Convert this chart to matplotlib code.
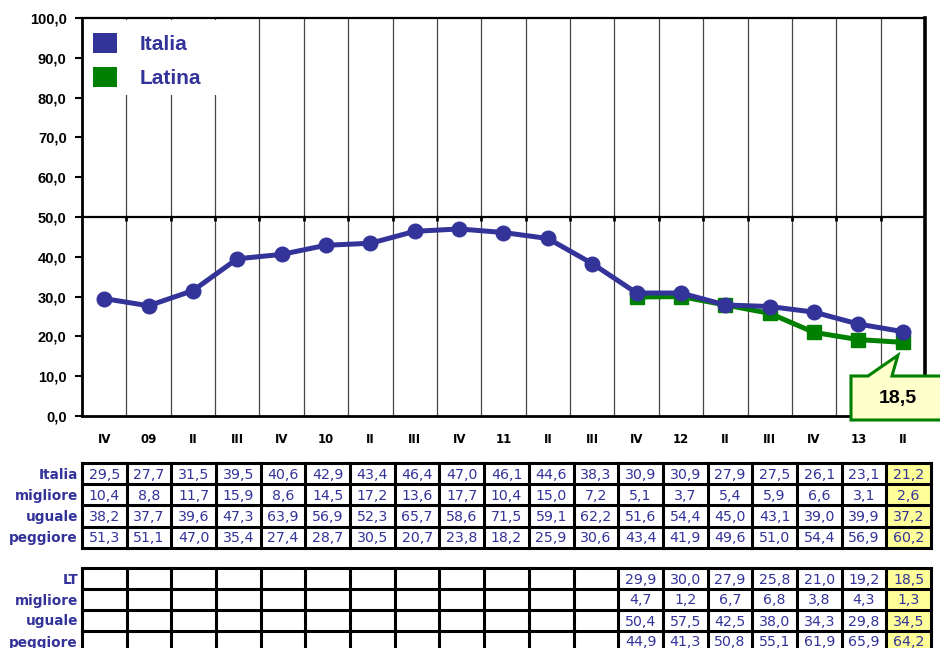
import matplotlib
matplotlib.use("Agg")
import matplotlib.pyplot as plt
from matplotlib.patches import Rectangle, Polygon

# ---- data -------------------------------------------------------------
quarters = ["IV", "09", "II", "III", "IV", "10", "II", "III", "IV", "11",
            "II", "III", "IV", "12", "II", "III", "IV", "13", "II"]

italia = [29.5, 27.7, 31.5, 39.5, 40.6, 42.9, 43.4, 46.4, 47.0, 46.1,
          44.6, 38.3, 30.9, 30.9, 27.9, 27.5, 26.1, 23.1, 21.2]
italia_migliore = [10.4, 8.8, 11.7, 15.9, 8.6, 14.5, 17.2, 13.6, 17.7, 10.4,
                   15.0, 7.2, 5.1, 3.7, 5.4, 5.9, 6.6, 3.1, 2.6]
italia_uguale = [38.2, 37.7, 39.6, 47.3, 63.9, 56.9, 52.3, 65.7, 58.6, 71.5,
                 59.1, 62.2, 51.6, 54.4, 45.0, 43.1, 39.0, 39.9, 37.2]
italia_peggiore = [51.3, 51.1, 47.0, 35.4, 27.4, 28.7, 30.5, 20.7, 23.8, 18.2,
                   25.9, 30.6, 43.4, 41.9, 49.6, 51.0, 54.4, 56.9, 60.2]

# Latina is available only for the last seven quarters
latina_start = 12
latina = [29.9, 30.0, 27.9, 25.8, 21.0, 19.2, 18.5]
latina_migliore = [4.7, 1.2, 6.7, 6.8, 3.8, 4.3, 1.3]
latina_uguale = [50.4, 57.5, 42.5, 38.0, 34.3, 29.8, 34.5]
latina_peggiore = [44.9, 41.3, 50.8, 55.1, 61.9, 65.9, 64.2]

yticks = [0, 10, 20, 30, 40, 50, 60, 70, 80, 90, 100]

# ---- style --------------------------------------------------------------
BLUE = "#333399"
GREEN = "#008000"
YELLOW = "#FFFF99"
W, H = 940, 648


def fmt(v):
    return f"{v:.1f}".replace(".", ",")


fig = plt.figure(figsize=(W / 100, H / 100), dpi=100)
fig.patch.set_facecolor("white")

# ---- main chart -----------------------------------------------------------
ax = fig.add_axes([82 / W, 1 - 416 / H, (925 - 82) / W, (416 - 18) / H])
n = len(quarters)
xs = list(range(n))
ax.set_xlim(-0.5, n - 0.5)
ax.set_ylim(0, 100)

# vertical separators between quarters
for k in range(n - 1):
    ax.axvline(k + 0.5, color="#444444", lw=0.9, zorder=1)
# horizontal reference at 50 with tiny ticks
ax.axhline(50, color="black", lw=1.6, zorder=2)
ax.vlines([k + 0.5 for k in range(n - 1)], 49.0, 50, color="black", lw=2, zorder=2)

lat_x = xs[latina_start:]
ax.plot(lat_x, latina, color=GREEN, lw=3.6, marker="s", ms=9.5,
        mfc=GREEN, mec=GREEN, zorder=4, solid_joinstyle="round")
ax.plot(xs, italia, color=BLUE, lw=3.6, marker="o", ms=10.5,
        mfc=BLUE, mec=BLUE, zorder=5, solid_joinstyle="round")

ax.set_yticks(yticks)
ax.set_yticklabels([fmt(v) for v in yticks], family="Liberation Sans",
                   fontweight="bold", fontsize=10.5)
ax.set_xticks(xs)
ax.set_xticklabels(quarters, family="DejaVu Sans", fontweight="bold", fontsize=8.5)
ax.tick_params(axis="y", length=5, width=1.5, pad=6, direction="out")
ax.tick_params(axis="x", length=0, pad=12)

for side, lw in (("left", 2), ("bottom", 2), ("top", 1.6), ("right", 2.6)):
    ax.spines[side].set_linewidth(lw)
    ax.spines[side].set_color("black")

# ---- overlay in pixel coordinates (legend, callout, tables) ---------------
ov = fig.add_axes([0, 0, 1, 1], zorder=10)
ov.set_xlim(0, W)
ov.set_ylim(H, 0)
ov.axis("off")
ov.patch.set_alpha(0)

# legend
ov.add_patch(Rectangle((84, 20), 142, 75, fc="white", ec="none"))
for i, (name, col) in enumerate((("Italia", BLUE), ("Latina", GREEN))):
    yc = 43 + i * 34
    ov.add_patch(Rectangle((93, yc - 10), 24, 20, fc=col, ec="none"))
    ov.text(140, yc + 1, name, color=BLUE, family="Liberation Sans",
            fontweight="bold", fontsize=15, va="center", ha="left")

# callout on the last Latina value
fig.canvas.draw()
px, py = ax.transData.transform((xs[-1], latina[-1]))
tip_x, tip_y = ov.transData.inverted().transform((px, py))
tip_x -= 5
tip_y += 13
bx0, bx1, by0, by1 = 851, 946, 376, 420
poly = [(bx0, by0), (bx0 + 17, by0), (tip_x, tip_y), (bx0 + 41, by0),
        (bx1, by0), (bx1, by1), (bx0, by1)]
ov.add_patch(Polygon(poly, closed=True, fc="#FFFFCC", ec=GREEN, lw=2.2,
                     joinstyle="miter", clip_on=False))
ov.text(898, 399, fmt(latina[-1]), family="Liberation Sans", fontweight="bold",
        fontsize=14, ha="center", va="center", color="black")

# data tables
tx0, tx1 = 82, 931
cw = (tx1 - tx0) / n


def draw_table(top, rh, labels, rows, first_col):
    nrows = len(labels)
    # highlight of the latest quarter
    ov.add_patch(Rectangle((tx0 + (n - 1) * cw, top), cw, nrows * rh,
                           fc=YELLOW, ec="none"))
    for r in range(nrows + 1):
        ov.plot([tx0, tx1], [top + r * rh] * 2, color="black", lw=2.2,
                solid_capstyle="projecting")
    for c in range(n + 1):
        ov.plot([tx0 + c * cw] * 2, [top, top + nrows * rh], color="black",
                lw=2.2, solid_capstyle="projecting")
    for r, (lab, vals) in enumerate(zip(labels, rows)):
        yc = top + (r + 0.5) * rh
        ov.text(tx0 - 4, yc + 1, lab, ha="right", va="center", color=BLUE,
                family="DejaVu Sans", fontweight="bold", fontsize=9.8)
        for j, v in enumerate(vals):
            c = first_col + j
            ov.text(tx0 + (c + 0.5) * cw, yc + 1, fmt(v), ha="center",
                    va="center", color=BLUE, family="DejaVu Sans",
                    fontsize=10.2)


draw_table(463, 21.2, ["Italia", "migliore", "uguale", "peggiore"],
           [italia, italia_migliore, italia_uguale, italia_peggiore], 0)
draw_table(568, 21.0, ["LT", "migliore", "uguale", "peggiore"],
           [latina, latina_migliore, latina_uguale, latina_peggiore],
           latina_start)

fig.savefig("out.png", dpi=100, facecolor="white")
